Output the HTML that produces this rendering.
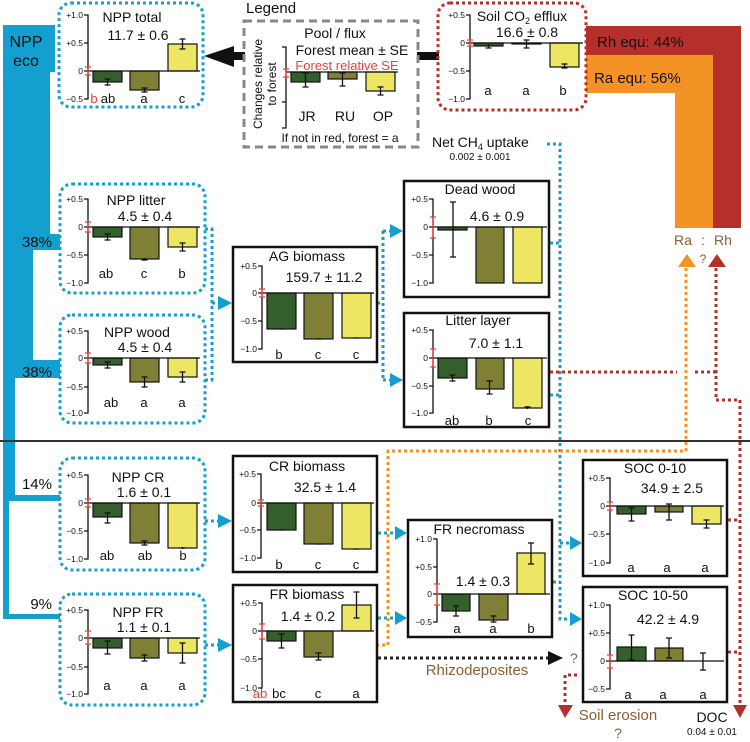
<!DOCTYPE html>
<html><head><meta charset="utf-8"><style>
html,body{margin:0;padding:0;background:#fff;}
svg{display:block;font-family:"Liberation Sans",sans-serif;}
.t{font-size:14px;text-anchor:middle;fill:#111}
.v{font-size:14px;text-anchor:middle;fill:#111}
.l{font-size:13px;text-anchor:middle;fill:#111}
.k{font-size:8.5px;text-anchor:end;fill:#111}
.ax{stroke:#111;stroke-width:1.3;fill:none}
.z{stroke:#111;stroke-width:1.2}
.e{stroke:#111;stroke-width:1.3;fill:none}
.r{stroke:#e8403a;stroke-width:1.3;fill:none}
.dg{fill:#345e2c;stroke:#111;stroke-width:1.2}
.ol{fill:#7f8035;stroke:#111;stroke-width:1.2}
.ye{fill:#ece663;stroke:#111;stroke-width:1.2}
.bd{fill:none;stroke:#139fcf;stroke-width:3;stroke-dasharray:3 3}
.rd{fill:none;stroke:#b2322a;stroke-width:3;stroke-dasharray:3 3}
.od{fill:none;stroke:#f39325;stroke-width:3;stroke-dasharray:3 3}
.kd{fill:none;stroke:#222;stroke-width:3;stroke-dasharray:3 3}
.bx{fill:#fff;stroke:#111;stroke-width:2.5}
.br{fill:#8b5e34}
</style></head><body>
<svg width="750" height="742" viewBox="0 0 750 742" xmlns="http://www.w3.org/2000/svg">
<!-- Blue NPP eco structure -->
<g fill="#139fcf">
<rect x="3" y="25" width="52" height="47"/>
<rect x="3" y="25" width="47" height="209"/>
<rect x="3" y="234" width="57" height="16"/>
<rect x="3" y="250" width="30" height="110"/>
<rect x="3" y="360" width="57" height="18"/>
<rect x="3" y="378" width="12" height="123"/>
<rect x="3" y="495" width="57" height="6"/>
<rect x="3" y="501" width="6" height="118"/>
<rect x="3" y="614" width="57" height="5"/>
</g>
<text x="26" y="47" style="font-size:16px;text-anchor:middle;fill:#111">NPP</text>
<text x="26" y="66" style="font-size:16px;text-anchor:middle;fill:#111">eco</text>
<text x="52" y="247" style="font-size:15px;text-anchor:end;fill:#111">38%</text>
<text x="52" y="377" style="font-size:15px;text-anchor:end;fill:#111">38%</text>
<text x="52" y="489" style="font-size:15px;text-anchor:end;fill:#111">14%</text>
<text x="52" y="609" style="font-size:15px;text-anchor:end;fill:#111">9%</text>

<!-- Rh/Ra bands -->
<polygon points="586,26 741,26 741,228 713,228 713,55 586,55" fill="#b5302a"/>
<polygon points="586,55 713,55 713,228 675,228 675,93 586,93" fill="#f39325"/>
<text x="597" y="47" style="font-size:15px;fill:#111">Rh equ: 44%</text>
<text x="594" y="83" style="font-size:15px;fill:#111">Ra equ: 56%</text>
<text x="683" y="245" style="font-size:14px;text-anchor:middle" class="br">Ra</text>
<text x="703" y="245" style="font-size:14px;text-anchor:middle" class="br">:</text>
<text x="723" y="245" style="font-size:14px;text-anchor:middle" class="br">Rh</text>
<text x="703" y="263" style="font-size:12px;text-anchor:middle" class="br">?</text>
<polygon points="678,267 687,254 696,267" fill="#f39325"/>
<polygon points="708,267 717,254 726,267" fill="#b2322a"/>

<!-- separator line -->
<line x1="0" y1="441" x2="750" y2="441" stroke="#333" stroke-width="2"/>

<!-- connectors -->
<path class="bd" d="M205 229 H212 V380 H205 M212 303 H218"/>
<polygon points="218,296 232,303 218,310" fill="#139fcf"/>
<path class="bd" d="M205 521 H218"/><polygon points="218,514 232,521 218,528" fill="#139fcf"/>
<path class="bd" d="M205 645 H218"/><polygon points="218,638 232,645 218,652" fill="#139fcf"/>
<path class="bd" d="M377 303 H383 M383 231 V380 M383 231 H390 M383 380 H390"/>
<polygon points="390,224 403,231 390,238" fill="#139fcf"/>
<polygon points="390,373 403,380 390,387" fill="#139fcf"/>
<path class="bd" d="M378 533 H395"/><polygon points="395,526 407,533 395,540" fill="#139fcf"/>
<path class="bd" d="M378 618 H395"/><polygon points="395,611 407,618 395,625" fill="#139fcf"/>
<path class="bd" d="M547 144 H560 V619 H570 M550 243 H560 M550 395 H560 M553 582 H560 M560 543 H570"/>
<polygon points="570,536 582,543 570,550" fill="#139fcf"/>
<polygon points="570,612 582,619 570,626" fill="#139fcf"/>
<path class="rd" d="M550 372 H677 M695 372 H716 M716 268 V400 H740 V705 M728 520 H740 M728 652 H740"/>
<polygon points="733,705 740,718 747,705" fill="#b2322a"/>
<path class="od" d="M686 268 V451 H388 V645 H378"/>
<path class="rd" d="M577 675 H565 V705"/>
<polygon points="558,705 565,718 573,705" fill="#b2322a"/>
<path class="kd" d="M378 658 H548"/>
<polygon points="548,651 563,658 548,665" fill="#111"/>
<text x="570" y="663" style="font-size:14px" class="br">?</text>
<text x="477" y="675" style="font-size:15px;text-anchor:middle" class="br">Rhizodeposites</text>
<text x="618" y="720" style="font-size:15px;text-anchor:middle" class="br">Soil erosion</text>
<text x="618" y="738" style="font-size:14px;text-anchor:middle" class="br">?</text>
<text x="712" y="722" style="font-size:14px;text-anchor:middle;fill:#111">DOC</text>
<text x="712" y="735" style="font-size:10px;text-anchor:middle;fill:#111">0.04 ± 0.01</text>
<text x="432" y="147" style="font-size:14px;fill:#111">Net CH<tspan font-size="9" dy="3">4</tspan><tspan dy="-3"> uptake</tspan></text>
<text x="480" y="160" style="font-size:10px;text-anchor:middle;fill:#111">0.002 ± 0.001</text>

<!-- black arrow -->
<polygon points="204,56 234,46 234,67" fill="#111"/>
<rect x="233" y="52" width="12" height="8" fill="#111"/>
<rect x="417" y="52" width="22" height="8" fill="#111"/>

<!-- Legend -->
<text x="246" y="13" style="font-size:15px;fill:#111">Legend</text>
<rect x="244" y="21" width="174" height="126" fill="none" stroke="#888" stroke-width="3" stroke-dasharray="8 5"/>
<text x="335" y="38" class="t">Pool / flux</text>
<text x="352" y="55" class="t">Forest mean ± SE</text>
<text x="347" y="70" style="font-size:13px;text-anchor:middle;fill:#e8403a">Forest relative SE</text>
<text x="340" y="142" style="font-size:12px;text-anchor:middle;fill:#111">If not in red, forest = a</text>
<text transform="translate(262,84) rotate(-90)" style="font-size:12px;text-anchor:middle;fill:#111">Changes relative</text>
<text transform="translate(276,84) rotate(-90)" style="font-size:12px;text-anchor:middle;fill:#111">to forest</text>
<g transform="translate(286,72)">
<path class="ax" d="M-4 -25 H0 V56 H-4 M-4 30 H0"/>
<rect class="dg" x="5" y="0" width="29" height="10"/><rect class="ol" x="42" y="0" width="29" height="7"/><rect class="ye" x="80" y="0" width="29" height="19"/>
<line class="z" x1="0" y1="0" x2="112" y2="0"/>
<path class="e" d="M19.5 1V15M16.5 1H22.5M16.5 15H22.5 M56.5 1V14M53.5 1H59.5M53.5 14H59.5 M94.5 15V23M91.5 15H97.5M91.5 23H97.5"/>
<path class="r" d="M0 -3V5M-3 -3H3M-3 5H3"/>
<text x="21" y="49" class="t">JR</text><text x="59" y="49" class="t">RU</text><text x="97" y="49" class="t">OP</text>
</g>

<!-- NPP total -->
<rect class="bd" x="59" y="3" width="144" height="104" rx="12"/>
<g transform="translate(88,71)">
<path class="ax" d="M-4 -56H0V28H-4M-4 -28H0M-4 0H0"/>
<text class="k" x="-5" y="-53">+1.0</text><text class="k" x="-5" y="-25">+0.5</text><text class="k" x="-5" y="3">0</text><text class="k" x="-5" y="31">−0.5</text>
<rect class="dg" x="5" y="0" width="29" height="11"/><rect class="ol" x="42" y="0" width="29" height="19"/><rect class="ye" x="80" y="-27" width="29" height="27"/>
<line class="z" x1="0" y1="0" x2="112" y2="0"/>
<path class="e" d="M19.5 8V14M16.5 8H22.5M16.5 14H22.5M56.5 17V21M53.5 17H59.5M53.5 21H59.5M94.5 -32V-22M91.5 -32H97.5M91.5 -22H97.5"/>
<path class="r" d="M0 -4V4M-3 -4H3M-3 4H3"/>
<text x="44" y="-49" class="t">NPP total</text><text x="50" y="-31" class="v">11.7 ± 0.6</text>
<text x="6" y="32" class="l" style="fill:#e8403a">b</text><text x="20" y="32" class="l">ab</text><text x="56" y="32" class="l">a</text><text x="94" y="32" class="l">c</text>
</g>

<!-- Soil CO2 -->
<rect class="rd" x="438" y="3" width="148" height="107" rx="12"/>
<g transform="translate(470,43)">
<path class="ax" d="M-4 -28H0V56H-4M-4 0H0M-4 28H0"/>
<text class="k" x="-5" y="-25">+0.5</text><text class="k" x="-5" y="3">0</text><text class="k" x="-5" y="31">−0.5</text><text class="k" x="-5" y="59">−1.0</text>
<rect class="dg" x="4" y="0" width="29" height="3"/><rect class="ol" x="42" y="0" width="29" height="1"/><rect class="ye" x="80" y="0" width="29" height="24"/>
<line class="z" x1="0" y1="0" x2="113" y2="0"/>
<path class="e" d="M18.5 1V5M15.5 5H21.5M56.5 -3V5M53.5 -3H59.5M53.5 5H59.5M94.5 21V25M91.5 21H97.5M91.5 25H97.5"/>
<path class="r" d="M0 -3V3M-3 -3H3M-3 3H3"/>
<text x="52" y="-22" class="t">Soil CO<tspan font-size="9" dy="3">2</tspan><tspan dy="-3"> efflux</tspan></text><text x="57" y="-6" class="v">16.6 ± 0.8</text>
<text x="18" y="52" class="l">a</text><text x="56" y="52" class="l">a</text><text x="93" y="52" class="l">b</text>
</g>

<!-- NPP litter -->
<rect class="bd" x="60" y="184" width="145" height="109" rx="12"/>
<g transform="translate(88,227)">
<path class="ax" d="M-4 -28H0V56H-4M-4 0H0M-4 28H0"/>
<text class="k" x="-5" y="-25">+0.5</text><text class="k" x="-5" y="3">0</text><text class="k" x="-5" y="31">−0.5</text><text class="k" x="-5" y="59">−1.0</text>
<rect class="dg" x="5" y="0" width="29" height="10"/><rect class="ol" x="42" y="0" width="29" height="32"/><rect class="ye" x="80" y="0" width="29" height="20"/>
<line class="z" x1="0" y1="0" x2="112" y2="0"/>
<path class="e" d="M19.5 7V13M16.5 7H22.5M16.5 13H22.5M56.5 31V33M53.5 33H59.5M94.5 16V24M91.5 16H97.5M91.5 24H97.5"/>
<path class="r" d="M0 -5V5M-3 -5H3M-3 5H3"/>
<text x="48" y="-22" class="t">NPP litter</text><text x="57" y="-6" class="v">4.5 ± 0.4</text>
<text x="18" y="51" class="l">ab</text><text x="56" y="51" class="l">c</text><text x="94" y="51" class="l">b</text>
</g>

<!-- NPP wood -->
<rect class="bd" x="60" y="315" width="145" height="108" rx="12"/>
<g transform="translate(88,358)">
<path class="ax" d="M-4 -27H0V55H-4M-4 0H0M-4 29H0"/>
<text class="k" x="-5" y="-24">+0.5</text><text class="k" x="-5" y="3">0</text><text class="k" x="-5" y="32">−0.5</text><text class="k" x="-5" y="58">−1.0</text>
<rect class="dg" x="5" y="0" width="29" height="7"/><rect class="ol" x="42" y="0" width="29" height="24"/><rect class="ye" x="80" y="0" width="29" height="19"/>
<line class="z" x1="0" y1="0" x2="112" y2="0"/>
<path class="e" d="M19.5 4V10M16.5 4H22.5M16.5 10H22.5M56.5 19V29M53.5 19H59.5M53.5 29H59.5M94.5 14V24M91.5 14H97.5M91.5 24H97.5"/>
<path class="r" d="M0 -5V5M-3 -5H3M-3 5H3"/>
<text x="49" y="-21" class="t">NPP wood</text><text x="57" y="-6" class="v">4.5 ± 0.4</text>
<text x="23" y="49" class="l">ab</text><text x="56" y="49" class="l">a</text><text x="94" y="49" class="l">a</text>
</g>

<!-- NPP CR -->
<rect class="bd" x="60" y="458" width="145" height="112" rx="12"/>
<g transform="translate(88,503)">
<path class="ax" d="M-4 -28H0V56H-4M-4 0H0M-4 28H0"/>
<text class="k" x="-5" y="-25">+0.5</text><text class="k" x="-5" y="3">0</text><text class="k" x="-5" y="31">−0.5</text><text class="k" x="-5" y="59">−1.0</text>
<rect class="dg" x="5" y="0" width="29" height="14"/><rect class="ol" x="42" y="0" width="29" height="40"/><rect class="ye" x="80" y="0" width="29" height="45"/>
<line class="z" x1="0" y1="0" x2="112" y2="0"/>
<path class="e" d="M19.5 10V20M16.5 10H22.5M16.5 20H22.5M56.5 38V42M53.5 38H59.5M53.5 42H59.5M94.5 44V46M91.5 45H97.5"/>
<path class="r" d="M0 -4V4M-3 -4H3M-3 4H3"/>
<text x="50" y="-21" class="t">NPP CR</text><text x="56" y="-6" class="v">1.6 ± 0.1</text>
<text x="19" y="57" class="l">ab</text><text x="57" y="57" class="l">ab</text><text x="95" y="57" class="l">b</text>
</g>

<!-- NPP FR -->
<rect class="bd" x="60" y="594" width="145" height="111" rx="12"/>
<g transform="translate(88,638)">
<path class="ax" d="M-4 -28H0V56H-4M-4 0H0M-4 29H0"/>
<text class="k" x="-5" y="-25">+0.5</text><text class="k" x="-5" y="3">0</text><text class="k" x="-5" y="32">−0.5</text><text class="k" x="-5" y="59">−1.0</text>
<rect class="dg" x="5" y="0" width="29" height="10"/><rect class="ol" x="42" y="0" width="29" height="20"/><rect class="ye" x="80" y="0" width="29" height="15"/>
<line class="z" x1="0" y1="0" x2="112" y2="0"/>
<path class="e" d="M19.5 3V16M16.5 3H22.5M16.5 16H22.5M56.5 17V23M53.5 17H59.5M53.5 23H59.5M94.5 5V25M91.5 5H97.5M91.5 25H97.5"/>
<path class="r" d="M0 -7V6M-3 -7H3M-3 6H3"/>
<text x="50" y="-21" class="t">NPP FR</text><text x="56" y="-6" class="v">1.1 ± 0.1</text>
<text x="19" y="52" class="l">a</text><text x="56" y="52" class="l">a</text><text x="94" y="52" class="l">a</text>
</g>

<!-- AG biomass -->
<rect class="bx" x="233" y="247" width="144" height="115"/>
<g transform="translate(262,293)">
<path class="ax" d="M-4 -27H0V56H-4M-4 0H0M-4 28H0"/>
<text class="k" x="-5" y="-24">+0.5</text><text class="k" x="-5" y="3">0</text><text class="k" x="-5" y="31">−0.5</text><text class="k" x="-5" y="59">−1.0</text>
<rect class="dg" x="5" y="0" width="29" height="36"/><rect class="ol" x="42" y="0" width="29" height="46"/><rect class="ye" x="80" y="0" width="29" height="45"/>
<line class="z" x1="0" y1="0" x2="112" y2="0"/>
<path class="e" d="M16.5 36H22.5M53.5 46H59.5M91.5 45H97.5"/>
<path class="r" d="M0 -4V4M-3 -4H3M-3 4H3"/>
<text x="45" y="-32" class="t">AG biomass</text><text x="62" y="-11" class="v">159.7 ± 11.2</text>
<text x="17" y="66" class="l">b</text><text x="56" y="66" class="l">c</text><text x="94" y="66" class="l">c</text>
</g>

<!-- CR biomass -->
<rect class="bx" x="233" y="456" width="144" height="116"/>
<g transform="translate(261,503)">
<path class="ax" d="M-4 -29H0V55H-4M-4 0H0M-4 27H0"/>
<text class="k" x="-5" y="-26">+0.5</text><text class="k" x="-5" y="3">0</text><text class="k" x="-5" y="30">−0.5</text><text class="k" x="-5" y="58">−1.0</text>
<rect class="dg" x="6" y="0" width="29" height="27"/><rect class="ol" x="43" y="0" width="29" height="41"/><rect class="ye" x="81" y="0" width="29" height="46"/>
<line class="z" x1="0" y1="0" x2="113" y2="0"/>
<path class="e" d="M17.5 27H23.5M54.5 41H60.5M92.5 46H98.5"/>
<path class="r" d="M0 -3V3M-3 -3H3M-3 3H3"/>
<text x="46" y="-32" class="t">CR biomass</text><text x="64" y="-11" class="v">32.5 ± 1.4</text>
<text x="18" y="66" class="l">b</text><text x="57" y="66" class="l">c</text><text x="95" y="66" class="l">c</text>
</g>

<!-- FR biomass -->
<rect class="bx" x="233" y="585" width="144" height="117"/>
<g transform="translate(262,631)">
<path class="ax" d="M-4 -28H0V57H-4M-4 0H0M-4 28H0"/>
<text class="k" x="-5" y="-25">+0.5</text><text class="k" x="-5" y="3">0</text><text class="k" x="-5" y="31">−0.5</text><text class="k" x="-5" y="60">−1.0</text>
<rect class="dg" x="5" y="0" width="29" height="10"/><rect class="ol" x="42" y="0" width="29" height="26"/><rect class="ye" x="80" y="-26" width="29" height="26"/>
<line class="z" x1="0" y1="0" x2="112" y2="0"/>
<path class="e" d="M19.5 3V17M16.5 3H22.5M16.5 17H22.5M56.5 22V29M53.5 22H59.5M53.5 29H59.5M94.5 -39V-13M91.5 -39H97.5M91.5 -13H97.5"/>
<path class="r" d="M0 -7V8M-3 -7H3M-3 8H3"/>
<text x="45" y="-32" class="t">FR biomass</text><text x="46" y="-10" class="v">1.4 ± 0.2</text>
<text x="-2" y="67" class="l" style="fill:#e8403a">ab</text><text x="17" y="67" class="l">bc</text><text x="56" y="67" class="l">c</text><text x="94" y="67" class="l">a</text>
</g>

<!-- Dead wood -->
<rect class="bx" x="404" y="181" width="145" height="116"/>
<g transform="translate(433,227)">
<path class="ax" d="M-4 -28H0V56H-4M-4 0H0M-4 28H0"/>
<text class="k" x="-5" y="-25">+0.5</text><text class="k" x="-5" y="3">0</text><text class="k" x="-5" y="31">−0.5</text><text class="k" x="-5" y="59">−1.0</text>
<rect class="dg" x="5" y="0" width="29" height="3"/><rect class="ol" x="43" y="0" width="28" height="56"/><rect class="ye" x="80" y="0" width="29" height="56"/>
<line class="z" x1="0" y1="0" x2="114" y2="0"/>
<path class="e" d="M20 -25V30M17 -25H23M17 30H23"/>
<path class="r" d="M0 -10V11M-3 -10H3M-3 11H3"/>
<text x="47" y="-33" class="t">Dead wood</text><text x="64" y="-6" class="v">4.6 ± 0.9</text>
</g>

<!-- Litter layer -->
<rect class="bx" x="404" y="313" width="145" height="114"/>
<g transform="translate(433,358)">
<path class="ax" d="M-4 -28H0V55H-4M-4 0H0M-4 28H0"/>
<text class="k" x="-5" y="-25">+0.5</text><text class="k" x="-5" y="3">0</text><text class="k" x="-5" y="31">−0.5</text><text class="k" x="-5" y="58">−1.0</text>
<rect class="dg" x="5" y="0" width="29" height="20"/><rect class="ol" x="43" y="0" width="28" height="31"/><rect class="ye" x="80" y="0" width="29" height="50"/>
<line class="z" x1="0" y1="0" x2="114" y2="0"/>
<path class="e" d="M19.5 17V23M16.5 17H22.5M16.5 23H22.5M56.5 23V36M53.5 23H59.5M53.5 36H59.5M94.5 48V51M91.5 49H97.5"/>
<path class="r" d="M0 -9V9M-3 -9H3M-3 9H3"/>
<text x="45" y="-33" class="t">Litter layer</text><text x="63" y="-10" class="v">7.0 ± 1.1</text>
<text x="19" y="67" class="l">ab</text><text x="56" y="67" class="l">b</text><text x="95" y="67" class="l">c</text>
</g>

<!-- FR necromass -->
<rect class="bx" x="408" y="520" width="144" height="117"/>
<g transform="translate(437,594)">
<path class="ax" d="M-4 -55H0V28H-4M-4 -27H0M-4 0H0"/>
<text class="k" x="-5" y="-52">+1.0</text><text class="k" x="-5" y="-24">+0.5</text><text class="k" x="-5" y="3">0</text><text class="k" x="-5" y="31">−0.5</text>
<rect class="dg" x="5" y="0" width="28" height="17"/><rect class="ol" x="42" y="0" width="29" height="26"/><rect class="ye" x="80" y="-41" width="28" height="41"/>
<line class="z" x1="0" y1="0" x2="113" y2="0"/>
<path class="e" d="M19 12V22M16 12H22M16 22H22M56.5 22V28M53.5 22H59.5M53.5 28H59.5M94 -51V-30M91 -51H97M91 -30H97"/>
<path class="r" d="M0 -10V11M-3 -10H3M-3 11H3"/>
<text x="42" y="-60" class="t">FR necromass</text><text x="46" y="-8" class="v">1.4 ± 0.3</text>
<text x="20" y="39" class="l">a</text><text x="56" y="39" class="l">a</text><text x="94" y="39" class="l">b</text>
</g>

<!-- SOC 0-10 -->
<rect class="bx" x="583" y="460" width="144" height="116"/>
<g transform="translate(610,506)">
<path class="ax" d="M-4 -28H0V57H-4M-4 0H0M-4 28H0"/>
<text class="k" x="-5" y="-25">+0.5</text><text class="k" x="-5" y="3">0</text><text class="k" x="-5" y="31">−0.5</text><text class="k" x="-5" y="60">−1.0</text>
<rect class="dg" x="7" y="0" width="29" height="8"/><rect class="ol" x="45" y="0" width="28" height="6"/><rect class="ye" x="82" y="0" width="29" height="18"/>
<line class="z" x1="0" y1="0" x2="114" y2="0"/>
<path class="e" d="M21.5 2V15M18.5 2H24.5M18.5 15H24.5M59 -2V14M56 -2H62M56 14H62M96.5 14V22M93.5 14H99.5M93.5 22H99.5"/>
<path class="r" d="M0 -4V4M-3 -4H3M-3 4H3"/>
<text x="45" y="-33" class="t">SOC 0-10</text><text x="62" y="-13" class="v">34.9 ± 2.5</text>
<text x="21" y="66" class="l">a</text><text x="57" y="66" class="l">a</text><text x="95" y="66" class="l">a</text>
</g>

<!-- SOC 10-50 -->
<rect class="bx" x="583" y="587" width="144" height="115"/>
<g transform="translate(610,661)">
<path class="ax" d="M-4 -56H0V28H-4M-4 -28H0M-4 0H0"/>
<text class="k" x="-5" y="-53">+1.0</text><text class="k" x="-5" y="-25">+0.5</text><text class="k" x="-5" y="3">0</text><text class="k" x="-5" y="31">−0.5</text>
<rect class="dg" x="7" y="-14" width="29" height="14"/><rect class="ol" x="45" y="-13" width="28" height="13"/>
<line class="z" x1="0" y1="0" x2="114" y2="0"/>
<path class="e" d="M21.5 -26V-1M18.5 -26H24.5M18.5 -1H24.5M59 -23V-3M56 -23H62M56 -3H62M93 -8V9M90 -8H96M90 9H96"/>
<path class="r" d="M0 -6V7M-3 -6H3M-3 7H3"/>
<text x="43" y="-61" class="t">SOC 10-50</text><text x="58" y="-37" class="v">42.2 ± 4.9</text>
<text x="18" y="38" class="l">a</text><text x="53" y="38" class="l">a</text><text x="93" y="38" class="l">a</text>
</g>
</svg>
</body></html>
